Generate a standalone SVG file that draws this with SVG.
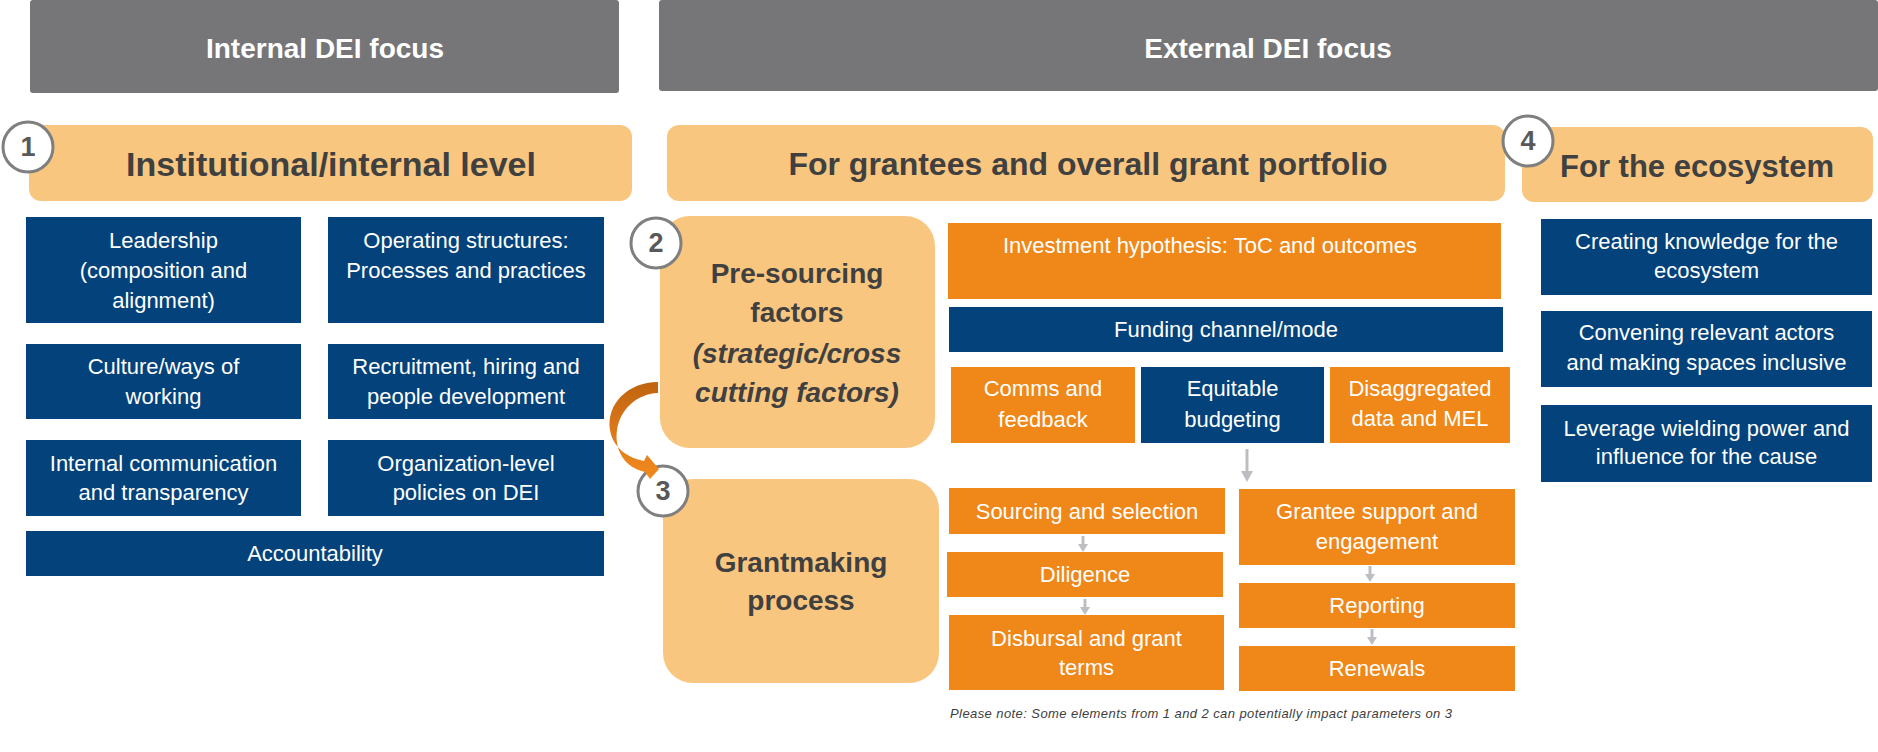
<svg xmlns="http://www.w3.org/2000/svg" width="1878" height="752" viewBox="0 0 1878 752">
<defs>
<style>
text{font-family:"Liberation Sans",Arial,sans-serif;text-anchor:middle}
.gray{fill:#767678}
.peach{fill:#F9C67F}
.blue{fill:#03427A}
.orange{fill:#EF8719}
.hd{fill:#fff;font-weight:bold;font-size:28px}
.pk{fill:#404040;font-weight:bold}
.t{fill:#fff;font-size:22px}
.circ{fill:#fff;stroke:#7F7F7F;stroke-width:3}
.num{fill:#595959;font-weight:bold;font-size:27px}
.conn{stroke:#BDBEC2;stroke-width:3;fill:none}
.note{fill:#404040;font-style:italic;font-size:13px;text-anchor:start}
</style>
<marker id="ah" markerUnits="userSpaceOnUse" markerWidth="10" markerHeight="10" viewBox="0 0 10 10" refX="0" refY="5" orient="auto">
<path d="M0,0 L8,5 L0,10 Z" fill="#BDBEC2"/>
</marker>
<marker id="ahL" markerUnits="userSpaceOnUse" markerWidth="12" markerHeight="12" viewBox="0 0 12 12" refX="0" refY="6" orient="auto">
<path d="M0,0 L11,6 L0,12 Z" fill="#BDBEC2"/>
</marker>
<linearGradient id="arrowGrad" x1="0" y1="0" x2="0" y2="1">
<stop offset="0" stop-color="#BF640E"/>
<stop offset="0.45" stop-color="#D8761A"/>
<stop offset="1" stop-color="#F28A1C"/>
</linearGradient>
</defs>
<rect width="1878" height="752" fill="#fff"/>

<g id="internal-focus">
<rect class="gray" x="30" y="0" width="589" height="93" rx="3"/>
<text class="hd" x="325" y="58">Internal DEI focus</text>
</g>
<g id="external-focus">
<rect class="gray" x="659" y="0" width="1219" height="91" rx="3"/>
<text class="hd" x="1268" y="58">External DEI focus</text>
</g>

<g id="institutional-level">
<rect class="peach" x="29" y="125" width="603" height="76" rx="12"/>
<text class="pk" x="331" y="176" font-size="34">Institutional/internal level</text>
<circle class="circ" cx="28" cy="147" r="25"/>
<text class="num" x="28" y="156">1</text>
</g>
<g id="grantees-portfolio">
<rect class="peach" x="667" y="125" width="838" height="76" rx="12"/>
<text class="pk" x="1088" y="175" font-size="32">For grantees and overall grant portfolio</text>
</g>
<g id="ecosystem">
<rect class="peach" x="1522" y="127" width="351" height="75" rx="12"/>
<text class="pk" x="1697" y="177" font-size="31">For the ecosystem</text>
<circle class="circ" cx="1528" cy="141" r="25"/>
<text class="num" x="1528" y="150">4</text>
</g>

<g id="leadership">
<rect class="blue" x="26" y="217" width="275" height="106"/>
<text class="t" x="163.5" y="248">Leadership</text>
<text class="t" x="163.5" y="278">(composition and</text>
<text class="t" x="163.5" y="308">alignment)</text>
</g>
<g id="operating-structures">
<rect class="blue" x="328" y="217" width="276" height="106"/>
<text class="t" x="466" y="248">Operating structures:</text>
<text class="t" x="466" y="278">Processes and practices</text>
</g>
<g id="culture">
<rect class="blue" x="26" y="344" width="275" height="75"/>
<text class="t" x="163.5" y="374">Culture/ways of</text>
<text class="t" x="163.5" y="404">working</text>
</g>
<g id="recruitment">
<rect class="blue" x="328" y="344" width="276" height="75"/>
<text class="t" x="466" y="374">Recruitment, hiring and</text>
<text class="t" x="466" y="404">people development</text>
</g>
<g id="internal-communication">
<rect class="blue" x="26" y="440" width="275" height="76"/>
<text class="t" x="163.5" y="471">Internal communication</text>
<text class="t" x="163.5" y="500">and transparency</text>
</g>
<g id="org-policies">
<rect class="blue" x="328" y="440" width="276" height="76"/>
<text class="t" x="466" y="471">Organization-level</text>
<text class="t" x="466" y="500">policies on DEI</text>
</g>
<g id="accountability">
<rect class="blue" x="26" y="531" width="578" height="45"/>
<text class="t" x="315" y="561">Accountability</text>
</g>

<g id="pre-sourcing">
<rect class="peach" x="660" y="216" width="275" height="232" rx="30"/>
<text class="pk" x="797" y="283" font-size="28">Pre-sourcing</text>
<text class="pk" x="797" y="322" font-size="28">factors</text>
<text class="pk" x="797" y="363" font-size="28" font-style="italic">(strategic/cross</text>
<text class="pk" x="797" y="402" font-size="28" font-style="italic">cutting factors)</text>
<circle class="circ" cx="656" cy="243" r="25"/>
<text class="num" x="656" y="252">2</text>
</g>
<g id="grantmaking">
<rect class="peach" x="663" y="479" width="276" height="204" rx="30"/>
<text class="pk" x="801" y="572" font-size="28">Grantmaking</text>
<text class="pk" x="801" y="610" font-size="28">process</text>
<circle class="circ" cx="663" cy="491" r="25"/>
<text class="num" x="663" y="500">3</text>
</g>

<g id="investment-hypothesis">
<rect class="orange" x="948" y="223" width="553" height="76"/>
<text class="t" x="1210" y="253">Investment hypothesis: ToC and outcomes</text>
</g>
<g id="funding-channel">
<rect class="blue" x="949" y="307" width="554" height="45"/>
<text class="t" x="1226" y="337">Funding channel/mode</text>
</g>
<g id="comms-feedback">
<rect class="orange" x="951" y="367" width="184" height="76"/>
<text class="t" x="1043" y="396">Comms and</text>
<text class="t" x="1043" y="427">feedback</text>
</g>
<g id="equitable-budgeting">
<rect class="blue" x="1141" y="367" width="183" height="76"/>
<text class="t" x="1232.5" y="396">Equitable</text>
<text class="t" x="1232.5" y="427">budgeting</text>
</g>
<g id="disaggregated-data">
<rect class="orange" x="1330" y="367" width="180" height="76"/>
<text class="t" x="1420" y="396">Disaggregated</text>
<text class="t" x="1420" y="426">data and MEL</text>
</g>

<g id="sourcing-selection">
<rect class="orange" x="949" y="488" width="276" height="46"/>
<text class="t" x="1087" y="519">Sourcing and selection</text>
</g>
<g id="diligence">
<rect class="orange" x="947" y="552" width="276" height="45"/>
<text class="t" x="1085" y="582">Diligence</text>
</g>
<g id="disbursal">
<rect class="orange" x="949" y="615" width="275" height="75"/>
<text class="t" x="1086.5" y="646">Disbursal and grant</text>
<text class="t" x="1086.5" y="675">terms</text>
</g>
<g id="grantee-support">
<rect class="orange" x="1239" y="489" width="276" height="76"/>
<text class="t" x="1377" y="519">Grantee support and</text>
<text class="t" x="1377" y="549">engagement</text>
</g>
<g id="reporting">
<rect class="orange" x="1239" y="583" width="276" height="45"/>
<text class="t" x="1377" y="613">Reporting</text>
</g>
<g id="renewals">
<rect class="orange" x="1239" y="646" width="276" height="45"/>
<text class="t" x="1377" y="676">Renewals</text>
</g>

<g id="eco-knowledge">
<rect class="blue" x="1541" y="219" width="331" height="76"/>
<text class="t" x="1706.5" y="249">Creating knowledge for the</text>
<text class="t" x="1706.5" y="278">ecosystem</text>
</g>
<g id="eco-convening">
<rect class="blue" x="1541" y="311" width="331" height="76"/>
<text class="t" x="1706.5" y="340">Convening relevant actors</text>
<text class="t" x="1706.5" y="370">and making spaces inclusive</text>
</g>
<g id="eco-leverage">
<rect class="blue" x="1541" y="405" width="331" height="77"/>
<text class="t" x="1706.5" y="436">Leverage wielding power and</text>
<text class="t" x="1706.5" y="464">influence for the cause</text>
</g>

<g id="connectors">
<path d="M658,382 C628,382 606,404 610,430 C613,448 628,458 644,461 L647,455 L659,469 L650,479 L645,472 C625,468 614,450 617,430 C620,410 636,394 658,393 Z" fill="url(#arrowGrad)"/>
<line class="conn" x1="1247" y1="449" x2="1247" y2="471" stroke-width="4" marker-end="url(#ahL)"/>
<line class="conn" x1="1083" y1="536" x2="1083" y2="544" marker-end="url(#ah)"/>
<line class="conn" x1="1085" y1="599" x2="1085" y2="607" marker-end="url(#ah)"/>
<line class="conn" x1="1370" y1="566" x2="1370" y2="574" marker-end="url(#ah)"/>
<line class="conn" x1="1372" y1="629" x2="1372" y2="637" marker-end="url(#ah)"/>
</g>

<g id="note">
<text class="note" x="950" y="718" textLength="502" lengthAdjust="spacing">Please note: Some elements from 1 and 2 can potentially impact parameters on 3</text>
</g>
</svg>
